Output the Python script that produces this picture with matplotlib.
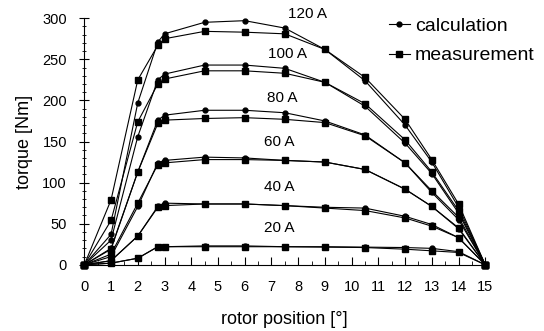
import matplotlib
matplotlib.use("Agg")
import matplotlib.pyplot as plt
from matplotlib.ticker import MultipleLocator

plt.rcParams['font.family'] = ['Liberation Sans', 'DejaVu Sans']

# rotor position [deg]
pos = [0, 1, 2, 2.75, 3, 4.5, 6, 7.5, 9, 10.5, 12, 13, 14, 15]

currents = ["120 A", "100 A", "80 A", "60 A", "40 A", "20 A"]

calc_120 = [0, 37, 197, 271, 281, 295, 297, 288, 262, 224, 170, 125, 70, 0]
meas_120 = [0, 79, 225, 267, 275, 284, 283, 281, 262, 228, 177, 128, 74, 0]
calc_100 = [0, 30, 156, 225, 232, 243, 243, 239, 222, 193, 148, 111, 63, 0]
meas_100 = [0, 54, 174, 220, 226, 236, 236, 233, 222, 196, 152, 113, 66, 0]
calc_80 = [0, 20, 113, 176, 182, 188, 188, 185, 175, 158, 124, 88, 55, 0]
meas_80 = [0, 19, 113, 172, 176, 178, 179, 177, 173, 157, 124, 90, 58, 0]
calc_60 = [0, 10, 71, 124, 127, 131, 130, 127, 125, 116, 92, 71, 44, 0]
meas_60 = [0, 13, 75, 122, 124, 128, 128, 127, 125, 116, 92, 71, 45, 0]
calc_40 = [0, 5, 35, 71, 75, 74, 74, 72, 70, 69, 59, 49, 33, 0]
meas_40 = [0, 5, 35, 70, 72, 74, 74, 72, 69, 66, 57, 47, 33, 0]
calc_20 = [0, 2, 8, 22, 22, 23, 23, 22, 22, 21.5, 21, 20, 16, 0]
meas_20 = [0, 2, 8, 22, 22, 22, 22, 22, 21.5, 21, 19, 17, 15, 0]

calc = [calc_120, calc_100, calc_80, calc_60, calc_40, calc_20]
meas = [meas_120, meas_100, meas_80, meas_60, meas_40, meas_20]

# label anchor (x pos, torque) for each current
label_x = [8.35, 7.6, 7.4, 7.3, 7.3, 7.3]
label_y = [305, 257, 203, 149, 95, 45]

fig = plt.figure(figsize=(5.44, 3.31), dpi=100)
ax = fig.add_axes([0.155, 0.2, 0.737, 0.745])

for i in range(len(currents)):
    ax.plot(pos, calc[i], 'k-o', lw=0.8, ms=3.5, clip_on=False,
            label='calculation' if i == 0 else None)
    ax.plot(pos, meas[i], 'k-s', lw=0.8, ms=4.5, clip_on=False,
            label='measurement' if i == 0 else None)
    ax.text(label_x[i], label_y[i], currents[i], ha='center', va='center',
            fontsize=11)

ax.set_xlim(0, 15)
ax.set_ylim(0, 300)
ax.xaxis.set_major_locator(MultipleLocator(1))
ax.xaxis.set_minor_locator(MultipleLocator(0.5))
ax.yaxis.set_major_locator(MultipleLocator(50))
ax.yaxis.set_minor_locator(MultipleLocator(10))
ax.tick_params(axis='x', which='major', direction='in', length=6, labelsize=10.5, pad=11)
ax.tick_params(axis='x', which='minor', direction='in', length=3)
ax.tick_params(axis='y', which='major', direction='inout', length=7, labelsize=10.5, pad=9)
ax.tick_params(axis='y', which='minor', direction='inout', length=3)

for s in ['top', 'right']:
    ax.spines[s].set_visible(False)

ax.set_xlabel('rotor position [°]', fontsize=13, labelpad=12)
ax.set_ylabel('torque [Nm]', fontsize=13, labelpad=7)

fig.legend(loc='upper right', bbox_to_anchor=(1.015, 1.0), frameon=False,
           fontsize=14, handlelength=1.1, handletextpad=0.25, labelspacing=0.6)

fig.savefig('out.png', dpi=100)
